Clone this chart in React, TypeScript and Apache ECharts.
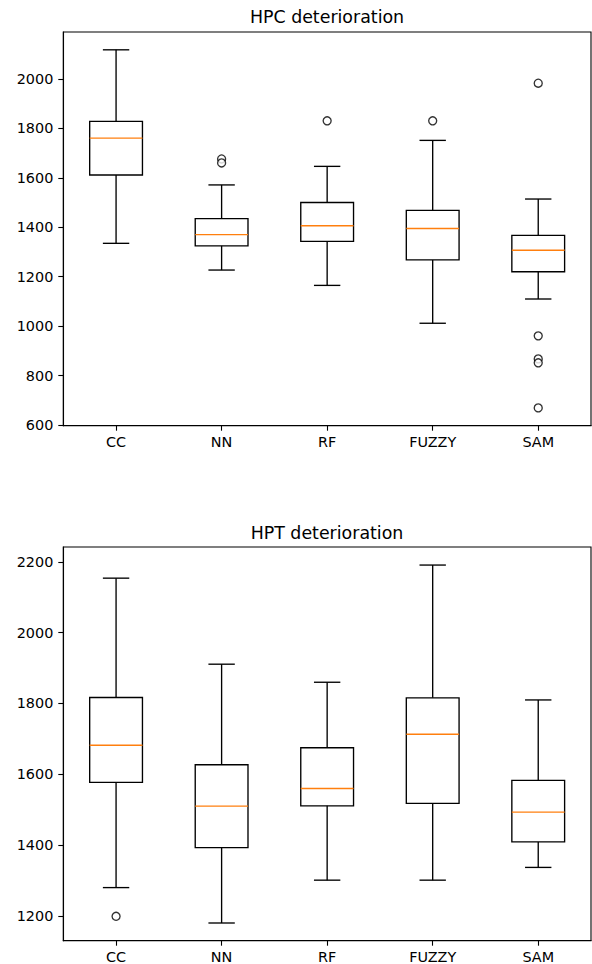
import React, { useEffect, useRef } from "react";
import * as echarts from "echarts";

const categories = ["CC", "NN", "RF", "FUZZY", "SAM"];

// [min whisker, Q1, median, Q3, max whisker]
const hpcBoxes = [
  [1335, 1611, 1760, 1828, 2117],
  [1227, 1325, 1370, 1435, 1571],
  [1165, 1343, 1406, 1500, 1646],
  [1012, 1268, 1395, 1468, 1751],
  [1110, 1220, 1307, 1367, 1514],
];
const hpcOutliers = [
  [1, 1676],
  [1, 1660],
  [2, 1830],
  [3, 1830],
  [4, 1982],
  [4, 961],
  [4, 868],
  [4, 852],
  [4, 670],
];
const hpcTicks = [600, 800, 1000, 1200, 1400, 1600, 1800, 2000];

const hptBoxes = [
  [1280, 1577, 1682, 1817, 2154],
  [1180, 1393, 1510, 1627, 1911],
  [1301, 1511, 1560, 1675, 1860],
  [1301, 1518, 1713, 1816, 2191],
  [1337, 1409, 1493, 1583, 1810],
];
const hptOutliers = [[0, 1199]];
const hptTicks = [1200, 1400, 1600, 1800, 2000, 2200];

const FONT = "DejaVu Sans";

function boxRender(params: any, api: any) {
  const idx = api.value(0);
  const band = api.size([1, 0])[0];
  const pMin = api.coord([idx, api.value(1)]);
  const yQ1 = api.coord([idx, api.value(2)])[1];
  const yMed = api.coord([idx, api.value(3)])[1];
  const yQ3 = api.coord([idx, api.value(4)])[1];
  const yMax = api.coord([idx, api.value(5)])[1];
  const x = pMin[0];
  const yMin = pMin[1];
  const hb = band * 0.25;
  const hc = band * 0.125;
  const st = { stroke: "#000", lineWidth: 1.35, fill: null };
  return {
    type: "group",
    children: [
      { type: "line", shape: { x1: x, y1: yQ3, x2: x, y2: yMax }, style: st },
      { type: "line", shape: { x1: x - hc, y1: yMax, x2: x + hc, y2: yMax }, style: st },
      { type: "line", shape: { x1: x, y1: yQ1, x2: x, y2: yMin }, style: st },
      { type: "line", shape: { x1: x - hc, y1: yMin, x2: x + hc, y2: yMin }, style: st },
      {
        type: "rect",
        shape: { x: x - hb, y: yQ3, width: 2 * hb, height: yQ1 - yQ3 },
        style: { stroke: "#000", lineWidth: 1.35, fill: "none" },
      },
      {
        type: "line",
        shape: { x1: x - hb, y1: yMed, x2: x + hb, y2: yMed },
        style: { stroke: "#ff7f0e", lineWidth: 1.35 },
      },
    ],
  };
}

function makeX(gridIndex: number) {
  return {
    type: "category",
    gridIndex,
    data: categories,
    boundaryGap: true,
    axisLine: { show: true, lineStyle: { color: "#000", width: 1.1 } },
    axisTick: { show: true, alignWithLabel: true, length: 5, lineStyle: { color: "#000", width: 1.1 } },
    axisLabel: { color: "#000", fontFamily: FONT, fontSize: 14.4, margin: 9 },
    splitLine: { show: false },
  };
}

function makeY(gridIndex: number, min: number, max: number, ticks: number[]) {
  return {
    type: "value",
    gridIndex,
    min,
    max,
    axisLine: { show: true, lineStyle: { color: "#000", width: 1.1 } },
    axisTick: { show: true, length: 5, customValues: ticks, lineStyle: { color: "#000", width: 1.1 } },
    axisLabel: {
      color: "#000",
      fontFamily: FONT,
      fontSize: 14.4,
      margin: 10,
      customValues: ticks,
      formatter: (v: number) => String(v),
    },
    splitLine: { show: false },
  };
}

export default function App() {
  const ref = useRef<HTMLDivElement>(null);
  useEffect(() => {
    if (!ref.current) return;
    const chart = echarts.init(ref.current, null, { renderer: "svg" });
    const gridCommon = {
      left: 63.3,
      right: 1,
      height: 393.7,
      show: true,
      borderColor: "#000",
      borderWidth: 1.1,
      backgroundColor: "transparent",
      containLabel: false,
      outerBoundsMode: "none",
    };
    chart.setOption({
      animation: false,
      backgroundColor: "#fff",
      textStyle: { fontFamily: FONT },
      grid: [
        { ...gridCommon, top: 32 },
        { ...gridCommon, top: 547 },
      ],
      xAxis: [makeX(0), makeX(1)],
      yAxis: [makeY(0, 598, 2189, hpcTicks), makeY(1, 1130, 2242, hptTicks)],
      graphic: [
        {
          type: "text",
          x: 327,
          y: 17,
          style: {
            text: "HPC deterioration",
            fontFamily: FONT,
            fontSize: 17.4,
            fill: "#000",
            textAlign: "center",
            textVerticalAlign: "middle",
          },
        },
        {
          type: "text",
          x: 327,
          y: 532.5,
          style: {
            text: "HPT deterioration",
            fontFamily: FONT,
            fontSize: 17.4,
            fill: "#000",
            textAlign: "center",
            textVerticalAlign: "middle",
          },
        },
      ],
      series: [
        {
          type: "custom",
          xAxisIndex: 0,
          yAxisIndex: 0,
          renderItem: boxRender,
          encode: { x: 0, y: [1, 2, 3, 4, 5] },
          data: hpcBoxes.map((b, i) => [i, ...b]),
        },
        {
          type: "scatter",
          xAxisIndex: 0,
          yAxisIndex: 0,
          symbol: "circle",
          symbolSize: 8,
          itemStyle: { color: "#fff", borderColor: "#000", borderWidth: 1.35 },
          data: hpcOutliers,
          z: 3,
        },
        {
          type: "custom",
          xAxisIndex: 1,
          yAxisIndex: 1,
          renderItem: boxRender,
          encode: { x: 0, y: [1, 2, 3, 4, 5] },
          data: hptBoxes.map((b, i) => [i, ...b]),
        },
        {
          type: "scatter",
          xAxisIndex: 1,
          yAxisIndex: 1,
          symbol: "circle",
          symbolSize: 8,
          itemStyle: { color: "#fff", borderColor: "#000", borderWidth: 1.35 },
          data: hptOutliers,
          z: 3,
        },
      ],
    });
    return () => chart.dispose();
  }, []);
  return (
    <div
      ref={ref}
      style={{ position: "absolute", left: 0, top: 0, width: 592, height: 964, background: "#fff" }}
    />
  );
}
